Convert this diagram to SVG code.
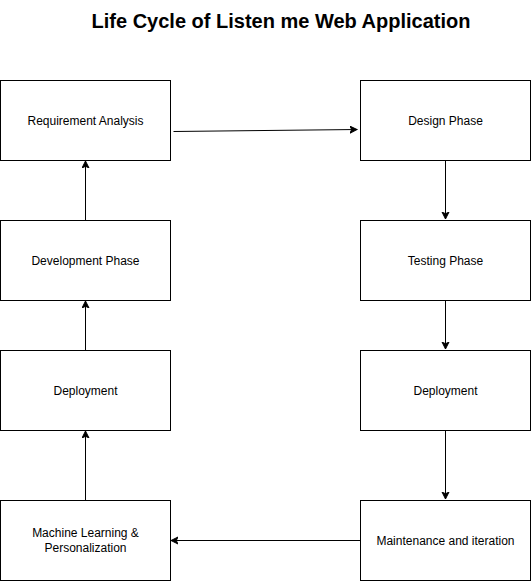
<svg xmlns="http://www.w3.org/2000/svg" width="531" height="581" viewBox="0 0 531 581">
<style>
.box{fill:#fff;stroke:#000;stroke-width:1}
.lbl{font-family:"Liberation Sans",Arial,sans-serif;font-size:12px;fill:#000;text-anchor:middle;dominant-baseline:central}
.edge{fill:none;stroke:#000;stroke-width:1}
.title{font-family:"Liberation Sans",Arial,sans-serif;font-size:20px;font-weight:bold;fill:#000;text-anchor:middle}
</style>
<defs>
<marker id="arr" markerWidth="10" markerHeight="10" refX="7" refY="4" orient="auto" markerUnits="userSpaceOnUse">
<path d="M0,0.5 L7,4 L0,7.5 L1.75,4 Z" fill="#000" stroke="#000" stroke-width="1"/>
</marker>
</defs>
<rect width="531" height="581" fill="#fff"/>
<text class="title" x="281" y="28">Life Cycle of Listen me Web Application</text>
<g id="connectors">
<path class="edge" d="M173.5,131.5 L357,129.5" marker-end="url(#arr)"/>
<path class="edge" d="M445.5,160.5 L445.5,219" marker-end="url(#arr)"/>
<path class="edge" d="M445.5,300.5 L445.5,349" marker-end="url(#arr)"/>
<path class="edge" d="M445.5,430.5 L445.5,499" marker-end="url(#arr)"/>
<path class="edge" d="M360.5,540.5 L171,540.5" marker-end="url(#arr)"/>
<path class="edge" d="M85.5,500.5 L85.5,431" marker-end="url(#arr)"/>
<path class="edge" d="M85.5,350.5 L85.5,301" marker-end="url(#arr)"/>
<path class="edge" d="M85.5,220.5 L85.5,161" marker-end="url(#arr)"/>
</g>
<g id="req"><rect class="box" x="0.5" y="80.5" width="170" height="80"/><text class="lbl" x="85.5" y="120.5">Requirement Analysis</text></g>
<g id="design"><rect class="box" x="360.5" y="80.5" width="170" height="80"/><text class="lbl" x="445.5" y="120.5">Design Phase</text></g>
<g id="dev"><rect class="box" x="0.5" y="220.5" width="170" height="80"/><text class="lbl" x="85.5" y="260.5">Development Phase</text></g>
<g id="test"><rect class="box" x="360.5" y="220.5" width="170" height="80"/><text class="lbl" x="445.5" y="260.5">Testing Phase</text></g>
<g id="deployL"><rect class="box" x="0.5" y="350.5" width="170" height="80"/><text class="lbl" x="85.5" y="390.5">Deployment</text></g>
<g id="deployR"><rect class="box" x="360.5" y="350.5" width="170" height="80"/><text class="lbl" x="445.5" y="390.5">Deployment</text></g>
<g id="ml"><rect class="box" x="0.5" y="500.5" width="170" height="80"/><text class="lbl" x="85.5" y="533">Machine Learning &amp;</text><text class="lbl" x="85.5" y="548">Personalization</text></g>
<g id="maint"><rect class="box" x="360.5" y="500.5" width="170" height="80"/><text class="lbl" x="445.5" y="540.5">Maintenance and iteration</text></g>
</svg>
